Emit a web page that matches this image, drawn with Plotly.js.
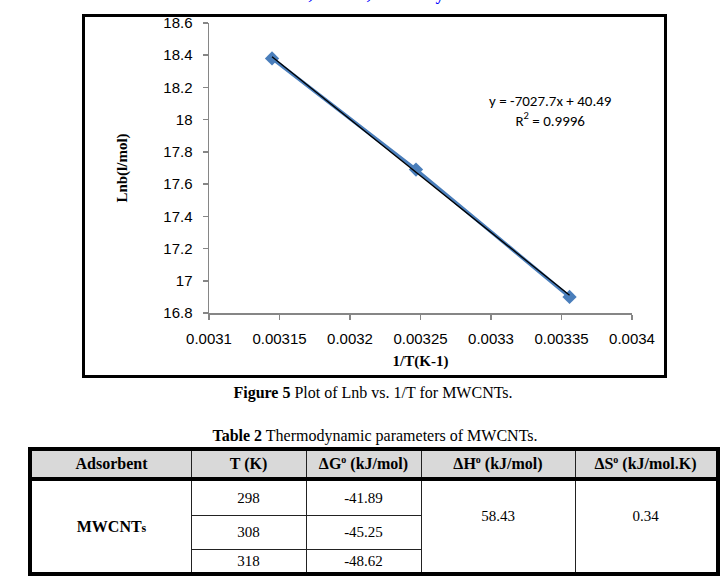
<!DOCTYPE html>
<html><head><meta charset="utf-8">
<script src="https://cdn.plot.ly/plotly-3.0.1.min.js"></script>
<style>
html,body{margin:0;padding:0;background:#fff;}
#page{position:relative;width:724px;height:581px;overflow:hidden;background:#fff;}
#chart{position:absolute;left:0;top:0;width:724px;height:385px;}
#frame{position:absolute;left:82px;top:14px;width:585px;height:364px;border:3px solid #000;box-sizing:border-box;pointer-events:none;}
.txt{position:absolute;font-family:"Liberation Serif","Times New Roman",serif;color:#000;white-space:nowrap;text-align:center;}
.cell{position:absolute;display:flex;align-items:center;justify-content:center;font-family:"Liberation Serif","Times New Roman",serif;color:#000;font-size:15px;white-space:nowrap;}
.ln{position:absolute;}
</style></head>
<body><div id="page">
<div id="header" class="txt" style="left:0;width:750px;top:-15px;font-size:17px;font-weight:bold;color:#0000ff;line-height:20px;">Vol. 4, Issue 2, February 2015</div>
<div id="chart"></div>
<div id="frame"></div>
<div id="caption" class="txt" style="left:0;width:746px;top:384px;font-size:16px;line-height:18px;"></div>
<div id="tableTitle" class="txt" style="left:0;width:750px;top:427px;font-size:16px;line-height:18px;"></div>
<div id="table"></div>
</div>
<script>
// ---- chart data ----
const invT = [0.0031447, 0.0032468, 0.0033557];
const lnb = [18.38, 17.69, 16.90];
const trendX = [0.0031447, 0.0033557];
const trendY = [18.39, 16.91];
const xTickVals = [0.0031, 0.00315, 0.0032, 0.00325, 0.0033, 0.00335, 0.0034];
const xTickText = ['0.0031', '0.00315', '0.0032', '0.00325', '0.0033', '0.00335', '0.0034'];
const yTickVals = [16.8, 17, 17.2, 17.4, 17.6, 17.8, 18, 18.2, 18.4, 18.6];
const yTickText = ['16.8', '17', '17.2', '17.4', '17.6', '17.8', '18', '18.2', '18.4', '18.6'];
const equationText = 'y = -7027.7x + 40.49';
const r2Text = 'R<sup>2</sup> = 0.9996';
const xTitle = '<b>1/T(K-1)</b>';
const yTitle = '<b>Lnb(l/mol)</b>';
const captionHtml = '<b>Figure 5</b> Plot of Lnb vs. 1/T for MWCNTs.';

// ---- table data ----
const tableTitleHtml = '<b>Table 2</b> Thermodynamic parameters of MWCNTs.';
const tableHeaders = ['Adsorbent', 'T (K)', '&Delta;G<sup style="font-size:10px">o</sup> (kJ/mol)', '&Delta;H<sup style="font-size:10px">o</sup> (kJ/mol)', '&Delta;S<sup style="font-size:10px">o</sup> (kJ/mol.K)'];
const adsorbentHtml = 'MWCNT<span style="font-size:12px">s</span>';
const temps = ['298', '308', '318'];
const deltaG = ['-41.89', '-45.25', '-48.62'];
const deltaH = '58.43';
const deltaS = '0.34';

document.getElementById('caption').innerHTML = captionHtml;
document.getElementById('tableTitle').innerHTML = tableTitleHtml;

const axisFont = {family: 'Liberation Sans, Arial, sans-serif', size: 15, color: '#000'};
const titleFont = {family: 'Liberation Serif, Times New Roman, serif', size: 15, color: '#000'};

const traces = [
  {x: invT, y: lnb, type: 'scatter', mode: 'lines+markers',
   line: {color: '#4a7ebb', width: 3.5},
   marker: {symbol: 'diamond', size: 11, color: '#4a7ebb'}},
  {x: trendX, y: trendY, type: 'scatter', mode: 'lines',
   line: {color: '#000', width: 1.3}}
];
const layout = {
  width: 724, height: 385,
  margin: {l: 209, r: 92, t: 23, b: 72, pad: 0},
  paper_bgcolor: 'rgba(0,0,0,0)', plot_bgcolor: 'rgba(0,0,0,0)',
  showlegend: false,
  xaxis: {range: [0.0031, 0.0034], tickmode: 'array', tickvals: xTickVals, ticktext: xTickText,
    showline: true, linecolor: '#868686', linewidth: 1.5, ticks: 'outside', ticklen: 5,
    tickcolor: '#868686', tickwidth: 1.5, showgrid: false, zeroline: false,
    tickfont: axisFont, ticklabelstandoff: 6,
    title: {text: xTitle, font: titleFont, standoff: 10}},
  yaxis: {range: [16.8, 18.6], tickmode: 'array', tickvals: yTickVals, ticktext: yTickText,
    showline: true, linecolor: '#868686', linewidth: 1.5, ticks: 'outside', ticklen: 5,
    tickcolor: '#868686', tickwidth: 1.5, showgrid: false, zeroline: false,
    tickfont: axisFont, ticklabelstandoff: 7,
    title: {text: yTitle, font: titleFont, standoff: 32}},
  annotations: [
    {xref: 'paper', yref: 'paper', x: 0.808, y: 0.698, text: equationText + '<br>' + r2Text, showarrow: false,
     align: 'center', xanchor: 'center', yanchor: 'middle', font: {family: 'Carlito, Lato, sans-serif', size: 15, color: '#000'}}
  ]
};
Plotly.newPlot('chart', traces, layout, {staticPlot: true, displayModeBar: false});

// ---- table drawing ----
const tbl = document.getElementById('table');
function line(x0, x1, y0, y1, color) {
  const d = document.createElement('div');
  d.className = 'ln';
  d.style.left = x0 + 'px'; d.style.top = y0 + 'px';
  d.style.width = (x1 - x0) + 'px'; d.style.height = (y1 - y0) + 'px';
  d.style.background = color;
  tbl.appendChild(d);
}
function cell(html, x0, x1, y0, y1, extra) {
  const d = document.createElement('div');
  d.className = 'cell';
  d.style.left = x0 + 'px'; d.style.top = y0 + 'px';
  d.style.width = (x1 - x0) + 'px'; d.style.height = (y1 - y0) + 'px';
  if (extra) Object.assign(d.style, extra);
  const s = document.createElement('span');
  s.innerHTML = html;
  d.appendChild(s);
  tbl.appendChild(d);
}
const colX = [32, 191, 306, 421, 575, 716];
// header background
line(32, 716, 451, 477, '#d9d9d9');
tableHeaders.forEach((h, i) => cell(h, colX[i], colX[i + 1], 451, 477, {fontWeight: 'bold', fontSize: '16px'}));
const rowY = [[481, 515], [516, 549], [550, 572]];
cell(adsorbentHtml, colX[0], colX[1], 481, 572, {fontWeight: 'bold', fontSize: '16px'});
temps.forEach((t, i) => cell(t, colX[1], colX[2], rowY[i][0], rowY[i][1]));
deltaG.forEach((g, i) => cell(g, colX[2], colX[3], rowY[i][0], rowY[i][1]));
cell(deltaH, colX[3], colX[4], 481, 552);
cell(deltaS, colX[4], colX[5], 481, 552);
// thin lines
[191, 306, 421, 575].forEach(x => line(x, x + 1, 451, 572, '#222'));
line(191, 421, 515, 516, '#222');
line(191, 421, 549, 550, '#222');
// thick lines
line(28, 720, 447, 451, '#000');
line(28, 720, 477, 481, '#000');
line(28, 720, 572, 576, '#000');
line(28, 32, 447, 576, '#000');
line(716, 720, 447, 576, '#000');
</script>
</body></html>
